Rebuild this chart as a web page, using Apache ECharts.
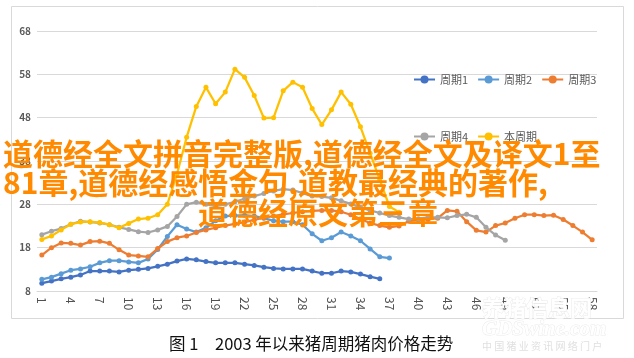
<!DOCTYPE html>
<html><head><meta charset="utf-8">
<script src="https://cdn.jsdelivr.net/npm/echarts@6/dist/echarts.min.js"></script>
<style>html,body{margin:0;padding:0;background:#fff}#c{width:634px;height:358px}</style>
</head><body><div id="c"></div>
<script>
const categories = [1,2,3,4,5,6,7,8,9,10,11,12,13,14,15,16,17,18,19,20,21,22,23,24,25,26,27,28,29,30,31,32,33,34,35,36,37,38,39,40,41,42,43,44,45,46,47,48,49,50,51,52,53,54,55,56,57,58];
const yTicks = [8,18,28,38,48,58,68];
const seriesNames = ['周期1','周期2','周期3','周期4','本周期'];
const cycle1 = [9.8,10.3,10.8,11.2,11.7,12.6,12.6,12.6,12.4,12.8,13.0,13.2,13.7,14.2,14.9,15.4,15.2,14.8,14.5,14.5,14.5,14.2,13.9,13.5,13.2,13.1,13.1,13.1,12.6,12.1,12.1,12.6,12.4,11.9,11.3,10.8];
const cycle2 = [10.7,11.2,12.0,12.8,13.1,13.6,14.5,15.0,15.0,14.7,14.5,15.4,17.6,20.6,23.3,22.3,21.6,22.6,24.2,25.3,25.4,25.5,25.3,24.8,24.2,24.0,24.0,23.3,21.2,19.6,20.3,21.6,20.7,19.6,17.7,15.9,15.6];
const cycle3 = [16.3,18.0,19.1,19.0,18.6,19.4,19.5,19.0,17.5,16.3,16.1,15.9,17.8,19.4,20.3,20.7,21.5,22.1,22.6,23.1,23.5,23.9,24.4,24.9,25.3,25.7,26.0,26.3,26.5,26.6,26.6,26.3,25.6,24.6,23.7,23.1,22.7,23.0,24.1,24.4,24.5,24.8,26.6,26.4,24.0,22.0,21.6,23.1,23.7,24.8,25.6,25.6,25.4,25.5,24.5,23.1,21.6,19.8];
const cycle4 = [21.0,21.8,22.4,23.4,24.1,23.9,23.7,23.3,22.7,22.2,21.7,21.5,22.1,22.9,25.2,28.0,28.5,28.0,27.6,28.0,28.6,29.3,29.9,30.5,31.1,31.5,31.3,30.6,29.9,29.8,29.5,28.8,28.1,27.3,26.6,26.0,25.4,25.0,24.6,24.7,25.0,25.0,24.9,25.4,25.7,25.0,22.7,20.9,19.7];
const current = [19.9,20.7,22.1,23.4,23.9,24.0,23.8,23.3,22.6,23.6,24.6,24.8,25.6,28.0,35.0,43.5,50.6,55.0,51.2,53.9,59.2,57.3,53.1,47.9,48.0,54.2,56.2,55.0,50.1,46.4,49.8,53.9,51.1,45.9,39.8,33.7,27.5,26.2];
const colors = ['#4472C4','#5B9BD5','#ED7D31','#A5A5A5','#FFC000'];
const caption1 = '图 1';
const caption2 = '2003 年以来猪周期猪肉价格走势';
const overlayLines = ['道德经全文拼音完整版,道德经全文及译文1至','81章,道德经感悟金句,道教最经典的著作,','道德经原文第三章'];

const font = '"Noto Sans CJK SC", "Noto Sans", sans-serif';
const chart = echarts.init(document.getElementById('c'));
const allData = [cycle1, cycle2, cycle3, cycle4, current];
const series = seriesNames.map((n, i) => ({
  name: n, type: 'line', data: allData[i], symbol: 'circle', symbolSize: 5,
  lineStyle: {width: 2.25, color: colors[i]}, itemStyle: {color: colors[i]},
  emphasis: {disabled: true}, z: 2 + i
}));
const legendText = {fontSize: 11, color: '#595959', fontFamily: font};
const option = {
  animation: false,
  backgroundColor: '#fff',
  textStyle: {fontFamily: font},
  grid: {left: 37, right: 37, top: 31, bottom: 67},
  xAxis: {
    type: 'category', data: categories, boundaryGap: true,
    axisLine: {lineStyle: {color: '#d9d9d9'}}, axisTick: {show: false},
    axisLabel: {interval: 2, rotate: -90, margin: 6, fontSize: 12, color: '#505050'}
  },
  yAxis: {
    type: 'value', min: yTicks[0], max: yTicks[yTicks.length - 1], interval: yTicks[1] - yTicks[0],
    axisLine: {show: false}, axisTick: {show: false},
    splitLine: {lineStyle: {color: '#d9d9d9'}},
    axisLabel: {margin: 6, fontSize: 10, fontWeight: 'bold', color: '#595959'}
  },
  legend: [
    {data: seriesNames.slice(0, 3), left: 408, top: 69, itemWidth: 21, itemHeight: 10, itemGap: 9, textStyle: legendText, selectedMode: false},
    {data: seriesNames.slice(3), left: 408, top: 126, itemWidth: 21, itemHeight: 10, itemGap: 9, textStyle: legendText, selectedMode: false}
  ],
  series: series,
  graphic: [
    {type: 'rect', z: -10, shape: {x: 11.5, y: 6.5, width: 612, height: 312}, style: {fill: 'none', stroke: '#d9d9d9', lineWidth: 1}},
    {type: 'text', x: 169, y: 344, z: 50, style: {text: caption1, fontSize: 16.5, fontFamily: font, fill: '#111', verticalAlign: 'middle'}},
    {type: 'text', x: 215, y: 344, z: 50, style: {text: caption2, fontSize: 16.5, fontFamily: font, fill: '#111', verticalAlign: 'middle'}},
    {type: 'text', x: 482, y: 308, z: 40, style: {text: '养猪信息网', fontSize: 22, fontFamily: font, fontWeight: 'bold', fill: '#fff', stroke: '#ebebeb', lineWidth: 1, verticalAlign: 'middle'}},
    {type: 'text', x: 482, y: 330, z: 40, style: {text: 'GDSwine.com', fontSize: 21, fontFamily: '"Liberation Serif", serif', fontStyle: 'italic', fontWeight: 'bold', fill: '#fff', stroke: '#ebebeb', lineWidth: 1, verticalAlign: 'middle'}},
    {type: 'text', x: 482, y: 346, z: 40, style: {text: '中 国 猪 业 资 讯 网 络 门 户', fontSize: 10, fontFamily: font, fill: '#e0e0e0', verticalAlign: 'middle'}},
    {type: 'text', x: 3, y: 153.5, z: 100, style: {text: overlayLines[0], fontSize: 30, fontWeight: 'bold', fontFamily: font, fill: '#FF8A00', verticalAlign: 'middle'}},
    {type: 'text', x: 3, y: 183, z: 100, style: {text: overlayLines[1], fontSize: 30, fontWeight: 'bold', fontFamily: font, fill: '#FF8A00', verticalAlign: 'middle'}},
    {type: 'text', x: 198, y: 212.5, z: 100, style: {text: overlayLines[2], fontSize: 30, fontWeight: 'bold', fontFamily: font, fill: '#FF8A00', verticalAlign: 'middle'}}
  ]
};
chart.setOption(option);
</script></body></html>
